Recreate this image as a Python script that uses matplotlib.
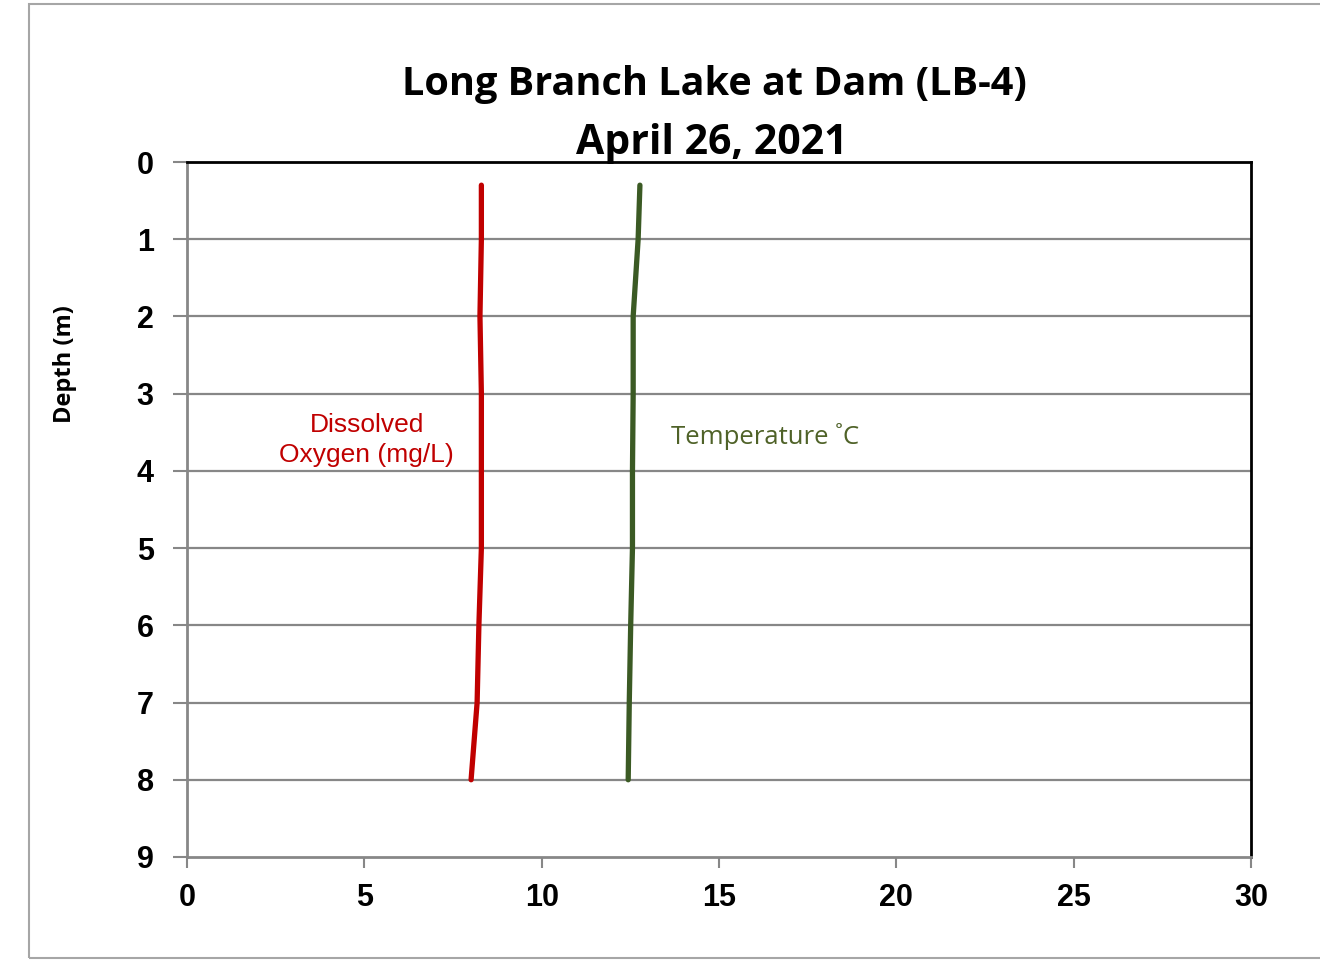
import matplotlib
matplotlib.use("Agg")
import matplotlib.pyplot as plt
from matplotlib.patches import Rectangle

# Profile readings (depth in metres)
depth = [0.3, 1, 2, 3, 4, 5, 6, 7, 8]
dissolved_oxygen = [8.30, 8.30, 8.26, 8.30, 8.30, 8.30, 8.23, 8.18, 8.01]
temperature = [12.77, 12.72, 12.58, 12.58, 12.56, 12.56, 12.51, 12.47, 12.44]

x_ticks = [0, 5, 10, 15, 20, 25, 30]
y_ticks = [0, 1, 2, 3, 4, 5, 6, 7, 8, 9]

fig = plt.figure(figsize=(13.2, 9.6), dpi=100)
fig.patch.set_facecolor("white")

# outer chart border
fig.patches.append(Rectangle((29 / 1320, 2 / 960), 1.2, 954 / 960,
                             transform=fig.transFigure, fill=False,
                             edgecolor="#a6a6a6", linewidth=1.5))

ax = fig.add_axes([187 / 1320, 1 - 857 / 960, 1064 / 1320, 695 / 960])

ax.plot(dissolved_oxygen, depth, color="#c00000", linewidth=3.8,
        solid_capstyle="round")
ax.plot(temperature, depth, color="#3b5a24", linewidth=3.8,
        solid_capstyle="round")

ax.set_xlim(0, 30)
ax.set_ylim(9, 0)
ax.set_xticks(x_ticks)
ax.set_yticks(y_ticks)

for yv in y_ticks[1:-1]:
    ax.axhline(yv, color="#878787", linewidth=1.6, zorder=0)

for side in ["left", "bottom"]:
    ax.spines[side].set_color("#878787")
    ax.spines[side].set_linewidth(2)
for side in ["top", "right"]:
    ax.spines[side].set_color("black")
    ax.spines[side].set_linewidth(2)

ax.tick_params(axis="both", direction="out", color="#878787", width=1.5,
               labelsize=22)
ax.tick_params(axis="y", length=10, pad=14)
ax.tick_params(axis="x", length=8, pad=11)
for lab in ax.get_xticklabels() + ax.get_yticklabels():
    lab.set_fontfamily("Liberation Sans")
    lab.set_fontweight("bold")

# y label sits above the axis centre in the original
fig.text(65 / 1320, 1 - 364 / 960, "Depth (m)", rotation=90, ha="center",
         va="center", fontfamily="Open Sans", fontweight="bold",
         fontsize=17)

fig.text(714 / 1320, 1 - 85 / 960, "Long Branch Lake at Dam (LB-4)",
         ha="center", va="center", fontsize=28.5, fontweight="bold",
         fontfamily="Open Sans")
fig.text(712 / 1320, 1 - 144 / 960, "April 26, 2021",
         ha="center", va="center", fontsize=29.5, fontweight="bold",
         fontfamily="Open Sans")

ax.text(5.07, 3.60, "Dissolved\nOxygen (mg/L)", color="#c00000",
        ha="center", va="center", fontsize=19, fontfamily="Liberation Sans",
        linespacing=1.3)
ax.text(16.3, 3.56, "Temperature ˚C", color="#4f6228", ha="center",
        va="center", fontsize=18.5, fontfamily="Open Sans")

fig.savefig("out.png", dpi=100)
